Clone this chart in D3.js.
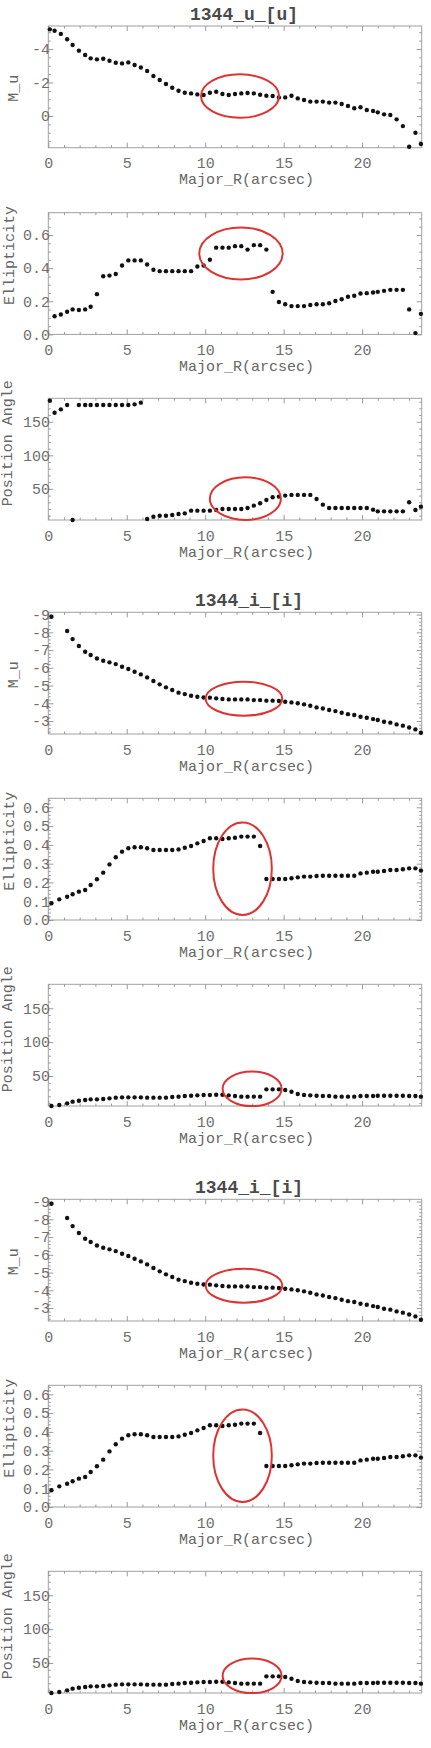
<!DOCTYPE html>
<html>
<head>
<meta charset="utf-8">
<script src="https://cdn.jsdelivr.net/npm/d3@7"></script>
<style>
  body { margin: 0; background: #fff; }
  text { font-family: "Liberation Mono", "DejaVu Sans Mono", monospace; }
</style>
</head>
<body>
<svg id="chart" width="431" height="1748"></svg>
<script>
// radius grids (arcsec)
const radiusU = [0.1, 0.4, 0.8, 1.2, 1.55, 1.95, 2.35, 2.7, 3.1, 3.5, 3.9, 4.3, 4.7, 5.1, 5.5, 5.9, 6.3, 6.7, 7.1, 7.5,
  7.9, 8.3, 8.7, 9.1, 9.5, 9.9, 10.3, 10.7, 11.1, 11.5, 11.9, 12.3, 12.7, 13.1, 13.5, 13.9, 14.3, 14.7, 15.1, 15.5,
  15.9, 16.3, 16.7, 17.1, 17.5, 17.9, 18.3, 18.7, 19.1, 19.5, 19.9, 20.3, 20.7, 21.0, 21.4, 21.8, 22.2, 22.6, 23.0, 23.4, 23.75];
const radiusI = [0.2, 0.7, 1.2, 1.55, 1.95, 2.35, 2.7, 3.1, 3.5, 3.9, 4.3, 4.7, 5.1, 5.5, 5.9, 6.3, 6.7, 7.1, 7.5,
  7.9, 8.3, 8.7, 9.1, 9.5, 9.9, 10.3, 10.7, 11.1, 11.5, 11.9, 12.3, 12.7, 13.1, 13.5, 13.9, 14.3, 14.7, 15.1, 15.5,
  15.9, 16.3, 16.7, 17.1, 17.5, 17.9, 18.3, 18.7, 19.1, 19.5, 19.9, 20.3, 20.7, 21.0, 21.4, 21.8, 22.2, 22.6, 23.0, 23.4, 23.75];

// u band
const muU = [-5.17, -5.09, -4.90, -4.58, -4.24, -3.90, -3.64, -3.44, -3.38, -3.42, -3.30, -3.18, -3.14, -3.20, -3.04,
  -2.89, -2.69, -2.39, -2.15, -1.91, -1.69, -1.51, -1.39, -1.35, -1.29, -1.25, -1.39, -1.45, -1.31, -1.25, -1.31,
  -1.35, -1.37, -1.35, -1.27, -1.21, -1.19, -1.11, -1.11, -1.21, -1.05, -0.96, -0.86, -0.86, -0.86, -0.80, -0.80,
  -0.72, -0.60, -0.46, -0.52, -0.36, -0.30, -0.22, -0.10, -0.06, 0.20, 0.60, 1.83, 1.00, 1.67];
const ellU = [null, 0.11, 0.12, 0.137, 0.151, 0.147, 0.151, 0.167, 0.243, 0.351, 0.355, 0.365, 0.416, 0.447, 0.447,
  0.447, 0.422, 0.39, 0.382, 0.382, 0.382, 0.382, 0.382, 0.382, 0.41, 0.416, 0.451, 0.524, 0.524, 0.524, 0.533,
  0.533, 0.512, 0.539, 0.539, 0.512, 0.257, 0.196, 0.182, 0.171, 0.171, 0.171, 0.178, 0.182, 0.182, 0.188, 0.202,
  0.212, 0.227, 0.233, 0.247, 0.249, 0.253, 0.257, 0.263, 0.269, 0.269, 0.269, 0.151, 0.008, 0.124];
const paU = [181.5, 163.5, 168.5, 175, 3.7, 175, 175, 175, 175, 175, 175, 175, 175, 175, 176, 178.5, 5, 8.5, 10, 10,
  11, 12.5, 13.5, 17.5, 17.5, 17.5, 17.5, 18.5, 20, 20, 20, 20, 21.5, 25, 28.5, 33.5, 37.5, 38.5, 40, 41, 41, 41, 41,
  35, 26.5, 21.5, 21.5, 21.5, 21.5, 21.5, 21.5, 21.5, 19, 16.5, 16.5, 16.5, 16.5, 16.5, 30, 18.5, 23.5];

// i band
const muI = [-8.88, null, -8.08, -7.62, -7.23, -6.91, -6.72, -6.53, -6.40, -6.31, -6.21, -6.06, -5.93, -5.78, -5.63,
  -5.46, -5.26, -5.07, -4.90, -4.75, -4.60, -4.52, -4.43, -4.37, -4.33, -4.32, -4.28, -4.24, -4.22, -4.22, -4.22,
  -4.22, -4.18, -4.18, -4.15, -4.15, -4.13, -4.09, -4.05, -4.00, -3.94, -3.86, -3.77, -3.71, -3.62, -3.56, -3.47,
  -3.39, -3.34, -3.24, -3.19, -3.11, -3.06, -2.96, -2.91, -2.81, -2.74, -2.64, -2.53, -2.34];
const ellI = [0.089, 0.110, 0.124, 0.137, 0.151, 0.160, 0.186, 0.217, 0.252, 0.296, 0.334, 0.364, 0.382, 0.387, 0.387,
  0.382, 0.373, 0.373, 0.373, 0.373, 0.376, 0.385, 0.394, 0.408, 0.421, 0.435, 0.435, 0.431, 0.435, 0.438, 0.444,
  0.444, 0.444, 0.394, 0.218, 0.218, 0.218, 0.218, 0.222, 0.227, 0.231, 0.231, 0.234, 0.236, 0.236, 0.236, 0.236,
  0.236, 0.236, 0.248, 0.252, 0.257, 0.257, 0.261, 0.266, 0.266, 0.270, 0.275, 0.275, 0.263];
const paI = [5.7, 7.1, 9.6, 12.1, 13.5, 14.5, 15.5, 15.5, 16.0, 17.0, 18.0, 18.5, 18.5, 18.5, 18.5, 18.0, 18.0, 18.0,
  18.0, 19.0, 19.5, 20.4, 20.9, 21.4, 21.9, 21.9, 22.4, 22.4, 21.4, 20.4, 19.5, 19.5, 19.5, 19.5, 30.3, 30.3, 30.3,
  29.3, 26.8, 23.4, 21.9, 21.4, 20.9, 20.4, 20.4, 19.5, 19.5, 19.5, 19.5, 20.4, 20.4, 20.4, 20.9, 20.9, 20.9, 20.9,
  20.9, 20.4, 20.4, 19.5, 19.5];

// tick labels
const xTicks = [0, 5, 10, 15, 20];
const muUTicks = [-4, -2, 0];
const muITicks = [-9, -8, -7, -6, -5, -4, -3];
const ellUTicks = [0, 0.2, 0.4, 0.6];
const ellITicks = [0, 0.1, 0.2, 0.3, 0.4, 0.5, 0.6];
const paTicks = [50, 100, 150];

const left = 48.3, right = 421.7, ph = 121.7;
const svg = d3.select('#chart');
const x = d3.scaleLinear().domain([0, 23.8]).range([left, right]);

const intFmt = d => String(d);
const decFmt = d => d.toFixed(1);

const panels = [
  {top: 26, r: radiusU, v: muU, title: '1344_u_[u]', titleX: 244, yDomain: [1.89, -5.37], ticks: muUTicks, minor: 0.5,
   fmt: intFmt, ytitle: 'M_u', ytx: 18, ytdy: 1.5, ell: [12.22, -1.19, 39, 21.7]},
  {top: 212.7, r: radiusU, v: ellU, yDomain: [0, 0.735], ticks: ellUTicks, minor: 0.05,
   fmt: decFmt, ytitle: 'Ellipticity', ytx: 13.5, ytdy: -18, ell: [12.28, 0.489, 41.7, 26]},
  {top: 398.3, r: radiusU, v: paU, yDomain: [3.6, 185], ticks: paTicks, minor: 10,
   fmt: intFmt, ytitle: 'Position Angle', ytx: 12, ytdy: -16, ell: [12.56, 35.5, 35.5, 21.3]}
];
[612.3, 1199.3].forEach(t0 => {
  panels.push(
    {top: t0, r: radiusI, v: muI, title: '1344_i_[i]', titleX: 249, yDomain: [-2.27, -9.13], ticks: muITicks, minor: 0.2,
     fmt: intFmt, ytitle: 'M_u', ytx: 18, ytdy: 1.5, ell: [12.47, -4.26, 38.3, 17]},
    {top: t0 + 186, r: radiusI, v: ellI, yDomain: [0, 0.648], ticks: ellITicks, minor: 0.02,
     fmt: decFmt, ytitle: 'Ellipticity', ytx: 13.5, ytdy: -18, ell: [12.38, 0.273, 29.3, 46.2]},
    {top: t0 + 372, r: radiusI, v: paI, yDomain: [5.7, 185.4], ticks: paTicks, minor: 10,
     fmt: intFmt, ytitle: 'Position Angle', ytx: 12, ytdy: -16, ell: [12.99, 31.1, 29.5, 17.3]}
  );
});

function styleAxis(sel) {
  sel.select('.domain').remove();
  sel.selectAll('line').attr('stroke', '#9a9a9a');
  sel.selectAll('text').attr('fill', '#6e6e6e').style('font-size', '15px');
}

function drawPanel(p) {
  const bottom = p.top + ph;
  const y = d3.scaleLinear().domain(p.yDomain).range([bottom, p.top]);
  const g = svg.append('g');

  g.append('rect')
    .attr('x', left).attr('y', p.top)
    .attr('width', right - left).attr('height', ph)
    .attr('fill', 'none').attr('stroke', '#a0a0a0').attr('stroke-width', 1);

  // minor ticks
  const xMinor = d3.range(1, 24).filter(t => t % 5 !== 0);
  const lo = Math.min(...p.yDomain), hi = Math.max(...p.yDomain);
  const yMinor = d3.range(Math.ceil(lo / p.minor) * p.minor, hi, p.minor)
    .filter(t => !p.ticks.some(m => Math.abs(m - t) < p.minor / 10));

  const minorAxes = [
    [d3.axisBottom(x).tickValues(xMinor), `translate(0,${bottom})`],
    [d3.axisTop(x).tickValues(xMinor), `translate(0,${p.top})`],
    [d3.axisLeft(y).tickValues(yMinor), `translate(${left},0)`],
    [d3.axisRight(y).tickValues(yMinor), `translate(${right},0)`]
  ];
  minorAxes.forEach(([ax, tr]) => {
    g.append('g').attr('transform', tr)
      .call(ax.tickSizeInner(-2.5).tickSizeOuter(0).tickFormat(''))
      .call(styleAxis);
  });

  // major ticks + labels
  g.append('g').attr('transform', `translate(0,${bottom})`)
    .call(d3.axisBottom(x).tickValues(xTicks).tickSizeInner(-5).tickSizeOuter(0).tickPadding(10).tickFormat(intFmt))
    .call(styleAxis);
  g.append('g').attr('transform', `translate(0,${p.top})`)
    .call(d3.axisTop(x).tickValues(xTicks).tickSizeInner(-5).tickSizeOuter(0).tickFormat(''))
    .call(styleAxis);
  g.append('g').attr('transform', `translate(${left},0)`)
    .call(d3.axisLeft(y).tickValues(p.ticks).tickSizeInner(-5).tickSizeOuter(0).tickPadding(-1.7).tickFormat(p.fmt))
    .call(styleAxis);
  g.append('g').attr('transform', `translate(${right},0)`)
    .call(d3.axisRight(y).tickValues(p.ticks).tickSizeInner(-5).tickSizeOuter(0).tickFormat(''))
    .call(styleAxis);

  // axis titles
  g.append('text')
    .attr('x', 246.5).attr('y', bottom + 36.5)
    .attr('text-anchor', 'middle')
    .attr('fill', '#666').style('font-size', '15px')
    .text('Major_R(arcsec)');
  const cy = p.top + ph / 2 + p.ytdy;
  g.append('text')
    .attr('transform', `translate(${p.ytx},${cy}) rotate(-90)`)
    .attr('text-anchor', 'middle')
    .attr('fill', '#666').style('font-size', '15px')
    .text(p.ytitle);

  if (p.title) {
    g.append('text')
      .attr('x', p.titleX).attr('y', p.top - 6)
      .attr('text-anchor', 'middle')
      .attr('fill', '#4a4a4a').style('font-size', '18px').style('font-weight', 'bold')
      .text(p.title);
  }

  // points
  const pts = p.r.map((r, i) => ({r: r, v: p.v[i]})).filter(d => d.v !== null && d.v !== undefined);
  g.selectAll('circle.pt')
    .data(pts)
    .enter().append('circle')
    .attr('class', 'pt')
    .attr('cx', d => x(d.r))
    .attr('cy', d => y(d.v))
    .attr('r', 2.2)
    .attr('fill', '#111');

  // red ellipse
  g.append('ellipse')
    .attr('cx', x(p.ell[0])).attr('cy', y(p.ell[1]))
    .attr('rx', p.ell[2]).attr('ry', p.ell[3])
    .attr('fill', 'none').attr('stroke', '#dd3333').attr('stroke-width', 2);
}

panels.forEach(drawPanel);
</script>
</body>
</html>
